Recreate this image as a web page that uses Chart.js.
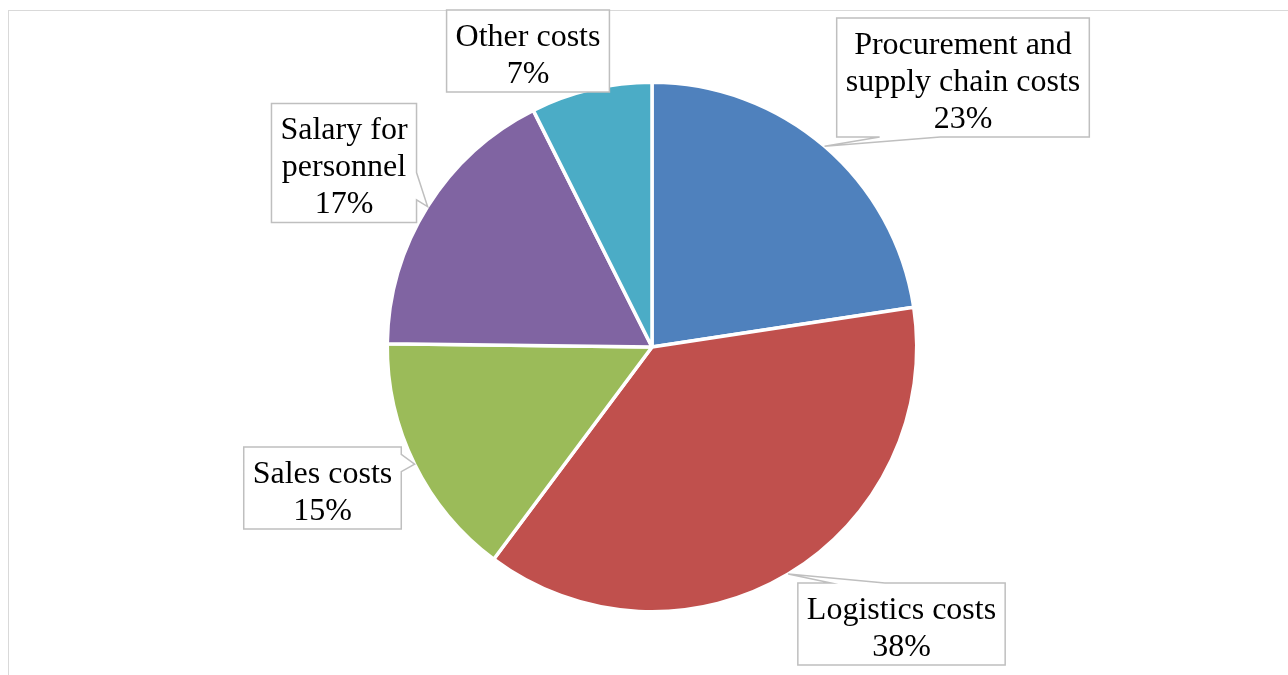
<!DOCTYPE html>
<html>
<head>
<meta charset="utf-8">
<script src="https://cdn.jsdelivr.net/npm/chart.js@4"></script>
<style>
  html, body { margin: 0; padding: 0; background: #fff; overflow: hidden; }
  #frame {
    position: absolute; left: 8px; top: 10px; width: 1300px; height: 700px;
    border: 1px solid #d9d9d9;
  }
  #wrap { position: absolute; left: 0; top: 0; width: 1288px; height: 675px; }
</style>
</head>
<body>
<div id="frame"></div>
<div id="wrap"><canvas id="costChart" width="1288" height="675"></canvas></div>
<script>
  // Kostenverdeling (volgorde met de klok mee vanaf 12 uur)
  const costLabels = [
    ["Procurement and", "supply chain costs"],
    ["Logistics costs"],
    ["Sales costs"],
    ["Salary for", "personnel"],
    ["Other costs"],
  ];
  const costValues = [22.6, 37.6, 15.0, 17.4, 7.4];
  const costColors = ["#4F81BD", "#C0504D", "#9BBB59", "#8064A2", "#4BACC6"];

  // Plaats van de callout-kaders t.o.v. het midden van de taart
  const calloutLayout = [
    { dx: 311, dy: -269.5, side: "bottom", a: 0.17, b: 0.41 },
    { dx: 249.5, dy: 277, side: "top", a: 0.16, b: 0.42 },
    { dx: -329.5, dy: 141, side: "right", a: 0.09, b: 0.3 },
    { dx: -308, dy: -184, side: "right", a: 0.58, b: 0.81 },
    { dx: -124, dy: -296, side: "none", a: 0, b: 0 },
  ];

  const fontSize = 32;
  const lineHeight = 37;

  const calloutPlugin = {
    id: "callouts",
    afterDatasetsDraw(chart) {
      const ctx = chart.ctx;
      const meta = chart.getDatasetMeta(0);
      const total = costValues.reduce((s, v) => s + v, 0);
      ctx.save();
      ctx.font = fontSize + "px 'Liberation Serif', 'Times New Roman', serif";
      meta.data.forEach((arc, i) => {
        const lay = calloutLayout[i];
        const lines = costLabels[i].concat([Math.round((costValues[i] / total) * 100) + "%"]);
        let maxW = 0;
        lines.forEach((l) => { maxW = Math.max(maxW, ctx.measureText(l).width); });
        const w = maxW + 18;
        const h = lines.length * lineHeight + 8;
        const cx = arc.x + lay.dx;
        const cy = arc.y + lay.dy;
        const x0 = cx - w / 2, x1 = cx + w / 2, y0 = cy - h / 2, y1 = cy + h / 2;

        const mid = (arc.startAngle + arc.endAngle) / 2;
        const tip = [arc.x + Math.cos(mid) * arc.outerRadius, arc.y + Math.sin(mid) * arc.outerRadius];

        let pts;
        if (lay.side === "top") {
          pts = [[x0, y0], [x0 + lay.a * w, y0], tip, [x0 + lay.b * w, y0], [x1, y0], [x1, y1], [x0, y1]];
        } else if (lay.side === "right") {
          pts = [[x0, y0], [x1, y0], [x1, y0 + lay.a * h], tip, [x1, y0 + lay.b * h], [x1, y1], [x0, y1]];
        } else if (lay.side === "bottom") {
          pts = [[x0, y0], [x1, y0], [x1, y1], [x0 + lay.b * w, y1], tip, [x0 + lay.a * w, y1], [x0, y1]];
        } else {
          pts = [[x0, y0], [x1, y0], [x1, y1], [x0, y1]];
        }
        ctx.beginPath();
        pts.forEach((p, k) => (k === 0 ? ctx.moveTo(p[0], p[1]) : ctx.lineTo(p[0], p[1])));
        ctx.closePath();
        ctx.fillStyle = "#ffffff";
        ctx.fill();
        ctx.lineWidth = 1.5;
        ctx.strokeStyle = "#bfbfbf";
        ctx.lineJoin = "miter";
        ctx.stroke();

        ctx.fillStyle = "#000000";
        ctx.textAlign = "center";
        ctx.textBaseline = "middle";
        lines.forEach((l, k) => {
          ctx.fillText(l, cx, y0 + 4 + lineHeight * (k + 0.5) + 5);
        });
      });
      ctx.restore();
    },
  };

  new Chart(document.getElementById("costChart"), {
    type: "pie",
    data: {
      labels: costLabels,
      datasets: [
        {
          data: costValues,
          backgroundColor: costColors,
          borderColor: "#ffffff",
          borderWidth: 3.5,
          hoverOffset: 0,
          offset: 0,
        },
      ],
    },
    options: {
      responsive: false,
      maintainAspectRatio: false,
      animation: false,
      layout: {
        padding: { left: 385.5, top: 80.5, right: 369.5, bottom: 61.5 },
      },
      plugins: {
        legend: { display: false },
        tooltip: { enabled: false },
      },
    },
    plugins: [calloutPlugin],
  });
</script>
</body>
</html>
